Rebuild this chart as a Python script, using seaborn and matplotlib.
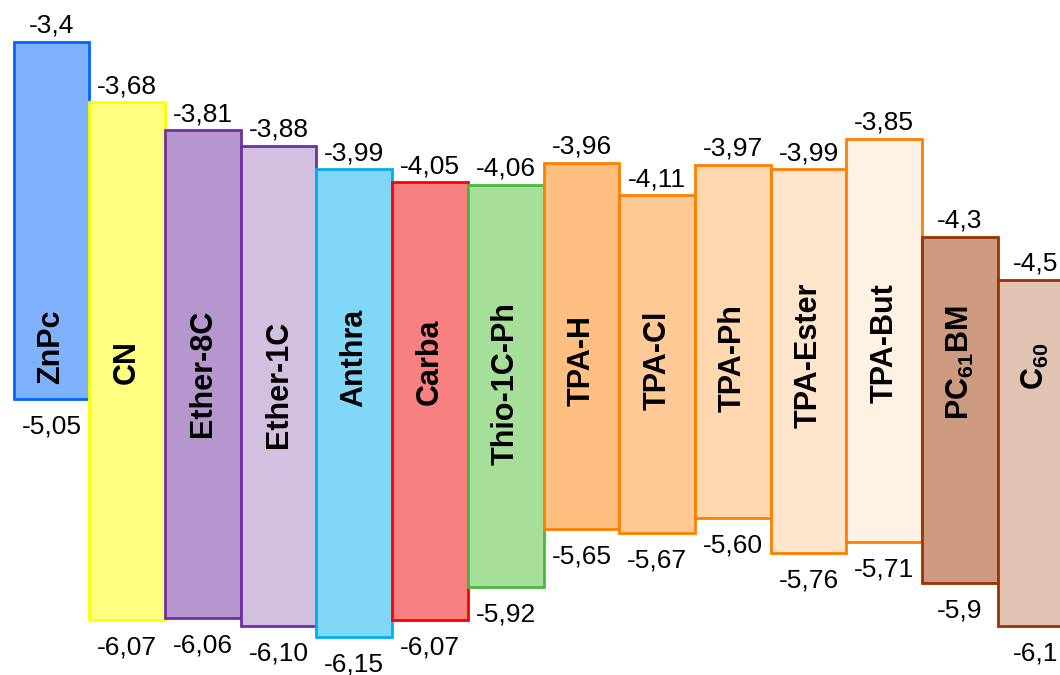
import numpy as np
import pandas as pd
import matplotlib
matplotlib.use("Agg")
import matplotlib.pyplot as plt
import seaborn as sns

# energy levels (eV), LUMO on top, HOMO at the bottom
names = ['ZnPc', 'CN', 'Ether-8C', 'Ether-1C', 'Anthra', 'Carba', 'Thio-1C-Ph',
         'TPA-H', 'TPA-Cl', 'TPA-Ph', 'TPA-Ester', 'TPA-But', 'PC$_{61}$BM', 'C$_{60}$']
lumo = [-3.4, -3.68, -3.81, -3.88, -3.99, -4.05, -4.06,
        -3.96, -4.11, -3.97, -3.99, -3.85, -4.3, -4.5]
homo = [-5.05, -6.07, -6.06, -6.10, -6.15, -6.07, -5.92,
        -5.65, -5.67, -5.60, -5.76, -5.71, -5.9, -6.1]
lumo_txt = ['-3,4', '-3,68', '-3,81', '-3,88', '-3,99', '-4,05', '-4,06',
            '-3,96', '-4,11', '-3,97', '-3,99', '-3,85', '-4,3', '-4,5']
homo_txt = ['-5,05', '-6,07', '-6,06', '-6,10', '-6,15', '-6,07', '-5,92',
            '-5,65', '-5,67', '-5,60', '-5,76', '-5,71', '-5,9', '-6,1']

fills = ['#80B1FF', '#FFFF80', '#B597CD', '#D3C0E1', '#80D7F8', '#F88080', '#A6DF9A',
         '#FFBF80', '#FFCA95', '#FFD8B0', '#FFE5CC', '#FFF2E5', '#CC9A80', '#E0C3B3']
edges = ['#0066FF', '#FFFF00', '#7030A0', '#7030A0', '#00B0F0', '#FF0000', '#4DB83F',
         '#FF8000', '#FF8000', '#FF8000', '#FF8000', '#FF8000', '#993300', '#993300']

# vertical centre of the rotated names
name_y = [-4.81, -4.88, -4.93, -4.98, -4.86, -4.88, -4.98,
          -4.87, -4.87, -4.86, -4.85, -4.79, -4.88, -4.90]

sns.set_theme(style='white')
plt.rcParams['font.family'] = ['Liberation Sans', 'DejaVu Sans']
plt.rcParams['mathtext.default'] = 'regular'

df = pd.DataFrame({'name': names, 'gap': np.array(homo) - np.array(lumo)})

fig = plt.figure(figsize=(10.6, 6.75), dpi=100)
ax = fig.add_axes([0, 0, 1, 1])
sns.barplot(data=df, x='name', y='gap', hue='name', palette=fills, saturation=1,
            legend=False, width=1, errorbar=None, linewidth=2, ax=ax)

# float each bar so it starts at the LUMO level
for i, bar in enumerate(ax.patches):
    bar.set_y(lumo[i])
    bar.set_edgecolor(edges[i])

for i, name in enumerate(names):
    ax.annotate(lumo_txt[i], (i, lumo[i]), xytext=(0, 3), textcoords='offset points',
                ha='center', va='bottom', fontsize=19, color='black')
    ax.annotate(homo_txt[i], (i, homo[i]), xytext=(0, -11), textcoords='offset points',
                ha='center', va='top', fontsize=19, color='black')
    ax.text(i, name_y[i], name, rotation=90, ha='center', va='center',
            fontsize=22, fontweight='bold', color='black')

ax.set_xlim(-0.68, 13.32)
ax.set_ylim(-6.324, -3.2075)
ax.axis('off')

plt.savefig('out.png', dpi=100)
